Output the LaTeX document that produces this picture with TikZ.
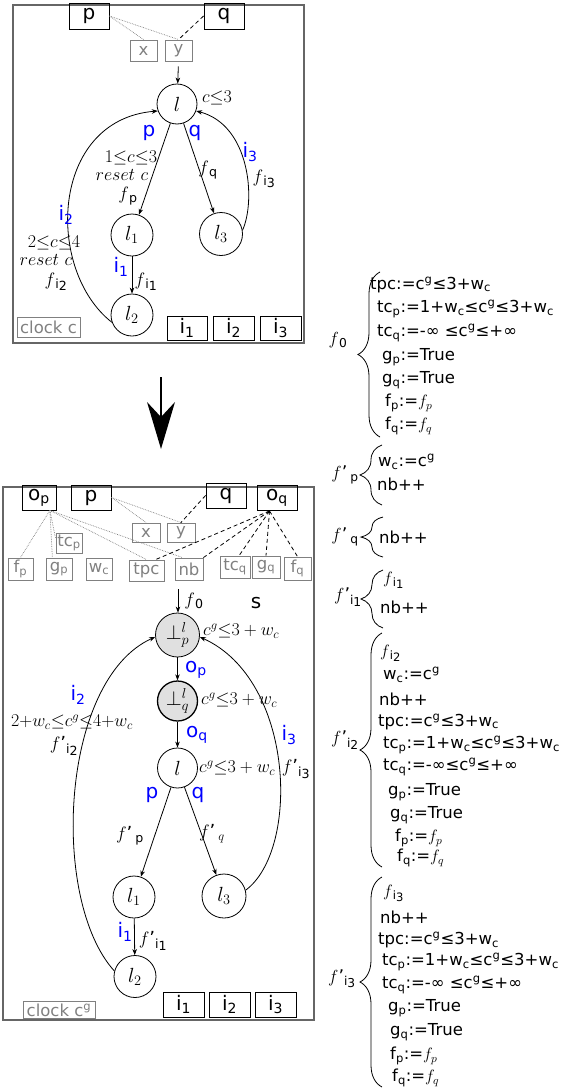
\RequirePackage{fix-cm}
\documentclass[tikz,border=0pt]{standalone}
\usepackage{amsmath}
\usepackage[no-math]{fontspec}
\setmainfont{DejaVu Sans}
\usetikzlibrary{arrows.meta,decorations.pathreplacing}
\newcommand\tsb[1]{\textsubscript{#1}}
\newcommand\tsp[1]{\textsuperscript{#1}}
\newcommand\isb[1]{i\raisebox{-0.3ex}{#1}}
\newcommand\tle{{\leq}}
\begin{document}
\begin{tikzpicture}[x=1pt,y=-1pt,
 >={Stealth[length=6pt,width=4.5pt,inset=1.8pt]},
 st/.style={circle,draw,line width=0.8pt,minimum size=40pt,inner sep=0pt,font=\fontsize{20.5}{24}\selectfont},
 bx/.style={draw,line width=0.9pt,minimum width=40pt,minimum height=25pt,inner sep=0pt,font=\fontsize{20}{24}\selectfont},
 gbx/.style={draw=gray,text=gray,line width=0.9pt,minimum height=20pt,inner sep=0pt,font=\fontsize{16.5}{20}\selectfont},
 lb/.style={text=blue,font=\fontsize{20}{24}\selectfont,inner sep=0pt},
 ml/.style={font=\fontsize{18}{21}\selectfont,inner sep=0pt},
 fl/.style={font=\fontsize{17.5}{20}\selectfont,inner sep=0pt},
 fx/.style={anchor=west,inner sep=0pt,font=\fontsize{16.5}{20}\selectfont},
 arr/.style={->,line width=0.8pt},
 dt/.style={gray,densely dotted,line width=0.7pt},
 ds/.style={dash pattern=on 4pt off 3pt,line width=0.8pt},
 outer/.style={draw=black!60,line width=1.3pt},
 brc/.style={decorate,decoration={brace,amplitude=22pt},line width=0.8pt}
]
\useasboundingbox (0,0) rectangle (560,1092);

% ---------- top automaton ----------
\draw[outer] (13,5) rectangle (304,343);
\node[bx,minimum height=26pt] (tp) at (89,16) {p};
\node[bx,minimum height=26pt] (tq) at (224,16) {q};
\node[gbx,minimum width=27pt,minimum height=21pt] (tx) at (143.5,50.5) {x};
\node[gbx,minimum width=27pt,minimum height=21pt] (ty) at (178.5,50.5) {y};
\draw[dt] (tp.east) -- (tx.north);
\draw[dt] (tp.east) -- (ty.north);
\draw[ds] (tq.west) -- (ty.north);

\node[st] (tl) at (177,104) {$l$};
\node[st,minimum size=42pt] (tl1) at (132,235) {$l_{\oldstylenums{1}}$};
\node[st,minimum size=43pt] (tl3) at (221,234) {$l_{\oldstylenums{3}}$};
\node[st,minimum size=42pt] (tl2) at (132,315) {$l_{\oldstylenums{2}}$};
\draw[arr,shorten <=5pt] (ty.south) -- (tl);
\draw[arr] (tl) -- (tl1);
\draw[arr] (tl) -- (tl3);
\draw[arr] (tl1) -- (tl2);
\draw[arr] (tl2.200) .. controls (45,270) and (50,120) .. (tl.200);
\draw[arr] (tl3.10) .. controls (256,200) and (250,125) .. (tl.-20);

\node[ml] at (217,98) {$c\tle\oldstylenums{3}$};
\node[lb] at (149,133) {p};
\node[lb] at (195,133) {q};
\node[ml] at (131,158) {$\oldstylenums{1}\tle c\tle\oldstylenums{3}$};
\node[ml] at (122,175) {$reset\ c$};
\node[ml] at (128,196) {$f$\tsb{p}};
\node[ml] at (208,170) {$f$\tsb{q}};
\node[lb] at (250,152) {i\tsb{3}};
\node[ml] at (264,179) {$f$\tsb{\isb{3}}};
\node[lb] at (66,215) {i\tsb{2}};
\node[ml] at (54,243) {$\oldstylenums{2}\tle c\tle\oldstylenums{4}$};
\node[ml] at (46,260) {$reset\ c$};
\node[ml] at (56,282) {$f$\tsb{\isb{2}}};
\node[lb] at (121,267) {i\tsb{1}};
\node[ml] at (146,282) {$f$\tsb{\isb{1}}};

\node[gbx,minimum width=63pt,minimum height=20pt] (tclk) at (48.5,327) {clock c};
\node[bx,minimum width=40pt,minimum height=24pt] (ti1) at (187,328) {i\tsb{1}};
\node[bx,minimum width=41pt,minimum height=24pt] (ti2) at (233.5,328) {i\tsb{2}};
\node[bx,minimum width=41pt,minimum height=24pt] (ti3) at (280.5,328) {i\tsb{3}};

% ---------- big arrow ----------
\draw[line width=2.2pt] (161,377) -- (161,418);
\fill (161,449) -- (147,402) -- (161,417) -- (175,402) -- cycle;

% ---------- bottom automaton ----------
\draw[outer] (3,487) rectangle (314,1020);
\node[bx,minimum width=34pt] (op) at (39,497.5) {o\tsb{p}};
\node[bx] (bp) at (91,497.5) {p};
\node[bx] (bq) at (226,495.5) {q};
\node[bx] (oq) at (277,498) {o\tsb{q}};

\node[gbx,minimum width=28pt,minimum height=19pt] (bx1) at (146,532.5) {x};
\node[gbx,minimum width=28pt,minimum height=19pt] (by1) at (181,532.5) {y};
\node[gbx,minimum width=26pt,minimum height=20pt] (tcp) at (69,543) {tc\tsb{p}};
\node[gbx,minimum width=25pt,minimum height=22pt] (fp) at (20.5,569) {f\tsb{p}};
\node[gbx,minimum width=26pt,minimum height=22pt] (gp) at (59,569) {g\tsb{p}};
\node[gbx,minimum width=26pt,minimum height=22pt] (wc) at (99,569) {w\tsb{c}};
\node[gbx,minimum width=35pt,minimum height=21pt] (tpc) at (146.5,570.5) {tpc};
\node[gbx,minimum width=28pt,minimum height=22pt] (nb) at (189,569) {nb};
\node[gbx,minimum width=30pt,minimum height=22pt] (tcq) at (235,567) {tc\tsb{q}};
\node[gbx,minimum width=28pt,minimum height=22pt] (gq) at (266,567) {g\tsb{q}};
\node[gbx,minimum width=27pt,minimum height=23pt] (fq) at (297.5,568.5) {f\tsb{q}};

\draw[dt] (op.-50) -- (fp.north);
\draw[dt] (op.-50) -- (gp.120);
\draw[dt] (op.-50) -- (tcp.160);
\draw[dt] (op.-50) -- (tpc.north);
\draw[dt] (op.-50) -- (nb.120);
\draw[dt] (bp.east) -- (bx1.north);
\draw[dt] (bp.east) -- (by1.north);
\draw[ds] (bq.west) -- (by1.north);
\draw[ds] (oq.240) -- (tpc.50);
\draw[ds] (oq.240) -- (nb.north east);
\draw[ds] (oq.240) -- (tcq.70);
\draw[ds] (oq.240) -- (gq.north);
\draw[ds] (oq.240) -- (fq.north);

\node[st,fill=black!12,minimum size=44pt] (lp) at (177.5,635) {$\bot^{l}_{p}$};
\node[st,fill=black!12,line width=1.3pt] (lq) at (177.5,701) {$\bot^{l}_{q}$};
\node[st] (bl) at (177.5,768) {$l$};
\node[st,minimum size=42pt] (bl1) at (134,897) {$l_{\oldstylenums{1}}$};
\node[st,minimum size=44pt] (bl3) at (224,896) {$l_{\oldstylenums{3}}$};
\node[st,minimum size=42pt] (bl2) at (135,976.5) {$l_{\oldstylenums{2}}$};

\coordinate (bi) at (178,589);
\draw[arr] (bi) -- (bi |- lp.north);
\draw[arr] (lp) -- (lq);
\draw[arr] (lq) -- (bl);
\draw[arr] (bl) -- (bl1);
\draw[arr] (bl) -- (bl3);
\draw[arr] (bl1) -- (bl2);
\draw[arr] (bl2.165) .. controls (50,900) and (60,680) .. (lp.185);
\draw[arr] (bl3.15) .. controls (300,850) and (295,680) .. (lp.-5);

\node[ml] at (194,601) {$f$\tsb{0}};
\node[font=\fontsize{20}{24}\selectfont,inner sep=0pt] at (256,603) {s};
\node[ml,anchor=west] at (203,631) {$c^g\tle\oldstylenums{3}+w_c$};
\node[lb] at (196,670) {o\tsb{p}};
\node[ml,anchor=west] at (201,700) {$c^g\tle\oldstylenums{3}+w_c$};
\node[lb] at (197,735) {o\tsb{q}};
\node[ml,anchor=west] at (199,768) {$c^g\tle\oldstylenums{3}+w_c$};
\node[lb] at (78,695) {i\tsb{2}};
\node[ml] at (72,722) {$\oldstylenums{2}{+}w_c\tle c^g\tle\oldstylenums{4}{+}w_c$};
\node[ml] at (64,746) {$f$'\tsb{\isb{2}}};
\node[lb] at (289,735) {i\tsb{3}};
\node[ml] at (296,769) {$f$'\tsb{\isb{3}}};
\node[lb] at (152,795) {p};
\node[lb] at (198,795) {q};
\node[ml] at (130,836) {$f$'\,\tsb{p}};
\node[ml] at (212,834) {$f$'\,$_{q}$};
\node[lb] at (125,932) {i\tsb{1}};
\node[ml] at (153,941) {$f$'\tsb{\isb{1}}};

\node[gbx,minimum width=72pt,minimum height=17pt] (bclk) at (59,1010) {clock c\tsp{g}};
\node[bx,minimum width=41pt,minimum height=25pt] (bi1) at (183.5,1004.5) {i\tsb{1}};
\node[bx,minimum width=41pt,minimum height=25pt] (bi2) at (229.5,1004.5) {i\tsb{2}};
\node[bx,minimum width=41pt,minimum height=25pt] (bi3) at (275.5,1004.5) {i\tsb{3}};

% ---------- right formulas ----------
\node[fl] (f0) at (338,340) {$f$\tsb{0}};
\draw[brc] (380,437) -- (380,272);
\node[fx] at (370,285) {tpc:=c\tsp{g}≤3+w\tsb{c}};
\node[fx] at (377,309) {tc\tsb{p}:=1+w\tsb{c}≤c\tsp{g}≤3+w\tsb{c}};
\node[fx] at (377,333) {tc\tsb{q}:=-∞ ≤c\tsp{g}≤+∞};
\node[fx] at (382,357) {g\tsb{p}:=True};
\node[fx] at (382,380) {g\tsb{q}:=True};
\node[fx] at (385,403) {f\tsb{p}:=$f_p$};
\node[fx] at (385,426) {f\tsb{q}:=$f_q$};

\node[fl] (fpp) at (345,475) {$f$'\,\tsb{p}};
\draw[brc] (382,505) -- (382,445);
\node[fx] at (378,462) {w\tsb{c}:=c\tsp{g}};
\node[fx] at (377,484) {nb++};

\node[fl] (fqq) at (345,537) {$f$'\,\tsb{q}};
\draw[brc] (383,557) -- (383,517);
\node[fx] at (379,537) {nb++};

\node[fl] (fi1) at (348,597) {$f$'\tsb{\isb{1}}};
\draw[brc] (383,628) -- (383,570);
\node[fx] at (383,580) {$f$\tsb{\isb{1}}};
\node[fx] at (380,607) {nb++};

\node[fl] (fi2) at (345,740) {$f$'\tsb{\isb{2}}};
\draw[brc] (382,867) -- (382,633);
\node[fx] at (380,653) {$f$\tsb{\isb{2}}};
\node[fx] at (383,675) {w\tsb{c}:=c\tsp{g}};
\node[fx] at (379,699) {nb++};
\node[fx] at (378,722) {tpc:=c\tsp{g}≤3+w\tsb{c}};
\node[fx] at (383,745) {tc\tsb{p}:=1+w\tsb{c}≤c\tsp{g}≤3+w\tsb{c}};
\node[fx] at (383,767) {tc\tsb{q}:=-∞≤c\tsp{g}≤+∞};
\node[fx] at (388,792) {g\tsb{p}:=True};
\node[fx] at (390,815) {g\tsb{q}:=True};
\node[fx] at (395,838) {f\tsb{p}:=$f_p$};
\node[fx] at (397,858) {f\tsb{q}:=$f_q$};

\node[fl] (fi3) at (342,979) {$f$'\tsb{\isb{3}}};
\draw[brc] (382,1087) -- (382,877);
\node[fx] at (383,893) {$f$\tsb{\isb{3}}};
\node[fx] at (380,917) {nb++};
\node[fx] at (378,940) {tpc:=c\tsp{g}≤3+w\tsb{c}};
\node[fx] at (382,962) {tc\tsb{p}:=1+w\tsb{c}≤c\tsp{g}≤3+w\tsb{c}};
\node[fx] at (382,985) {tc\tsb{q}:=-∞ ≤c\tsp{g}≤+∞};
\node[fx] at (388,1008) {g\tsb{p}:=True};
\node[fx] at (390,1032) {g\tsb{q}:=True};
\node[fx] at (390,1056) {f\tsb{p}:=$f_p$};
\node[fx] at (392,1078) {f\tsb{q}:=$f_q$};
\end{tikzpicture}
\end{document}
